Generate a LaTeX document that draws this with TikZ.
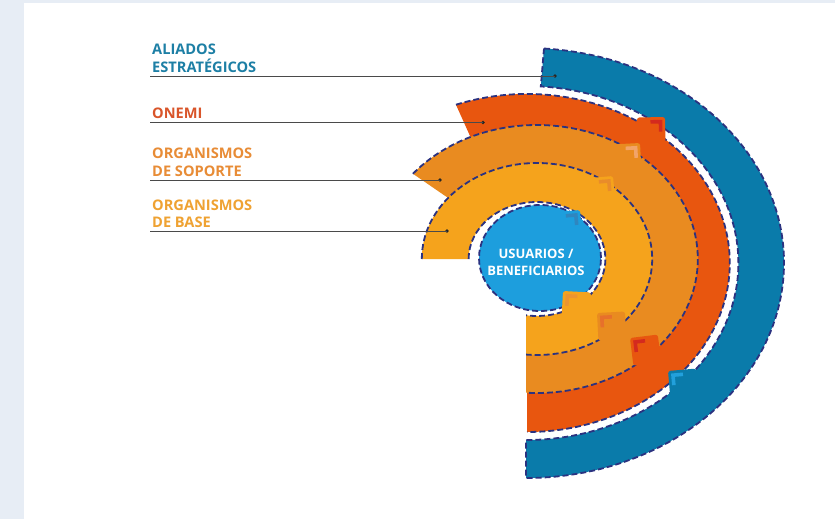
\documentclass[tikz,border=0pt]{standalone}
\usepackage{fontspec}
\setmainfont{Open Sans}
\usetikzlibrary{shapes.geometric}
\definecolor{cbg}{HTML}{E7EDF5}
\definecolor{cblue}{HTML}{0A7BAA}
\definecolor{conemi}{HTML}{E8560F}
\definecolor{csop}{HTML}{E98B20}
\definecolor{cbase}{HTML}{F5A31C}
\definecolor{ccirc}{HTML}{1D9EDD}
\definecolor{cnavy}{HTML}{2B3280}
\definecolor{tali}{HTML}{1D7FA5}
\definecolor{tonemi}{HTML}{D9552A}
\definecolor{tsop}{HTML}{E88C36}
\definecolor{tbase}{HTML}{EFA232}
\definecolor{cgray}{HTML}{4A4A4A}
\definecolor{chred}{HTML}{D42A1E}
\definecolor{chblue}{HTML}{22A0DC}
\definecolor{chcirc}{HTML}{2F86BF}
\definecolor{chbaseO}{HTML}{E98C2A}
\definecolor{chsopO}{HTML}{F2A46A}
\definecolor{chbaseI}{HTML}{EC9430}
\definecolor{chsopI}{HTML}{E7702B}
\newcommand\mybump[5]{%
  \begin{scope}[shift={(#1,-#2)},rotate=#3]
    \fill[#4,rounded corners=2.5pt] (0,0) -- (135:28pt) -- ++(-135:28pt) -- (-135:28pt) -- cycle;
    \draw[#5,line width=3.6pt,line join=miter] ([shift={(135:10pt)}]-6.5,0) -- (-6.5,0) -- ([shift={(-135:10pt)}]-6.5,0);
  \end{scope}}
\begin{document}
\begin{tikzpicture}[x=1pt,y=1pt,
  dashline/.style={draw=cnavy,line width=1.8pt,dash pattern=on 6pt off 3pt},
  lab/.style={font=\bfseries\fontsize{14.6}{16}\selectfont,anchor=base west,inner sep=0pt},
  ctr/.style={font=\bfseries\fontsize{13}{15}\selectfont,text=white,anchor=base,inner sep=0pt},
  leader/.style={draw=cgray,line width=0.8pt},
  dotmark/.style={circle,fill=black!85,inner sep=0pt,minimum size=3.6pt}]
\useasboundingbox (0,0) rectangle (835,-519);
\fill[cbg] (0,0) rectangle (835,-519);
\fill[white] (24,-3) rectangle (835,-519);

% ALIADOS ESTRATEGICOS (blue band)
\begin{scope}[shift={(526,-263)},xscale=1.2]
  \path[fill=cblue,dashline] (86:215pt) arc[start angle=86,end angle=-90,radius=215pt]
    -- (-90:177pt) arc[start angle=-90,end angle=86,radius=177pt] -- cycle;
\end{scope}

% ONEMI
\begin{scope}[shift={(527,-263)},xscale=1.2]
  \fill[conemi] (110.5:169pt) arc[start angle=110.5,end angle=-90,radius=169pt]
    -- (-90:120pt) arc[start angle=-90,end angle=110.5,radius=120pt] -- cycle;
  \draw[dashline] (110.5:169pt) arc[start angle=110.5,end angle=-90,radius=169pt];
\end{scope}
\mybump{665}{117}{46}{conemi}{chred}

% ORGANISMOS DE SOPORTE
\begin{scope}
  \clip (0,0) rectangle (835,-259) (526,-259) rectangle (835,-519);
  \begin{scope}[shift={(537,-259)},xscale=1.2]
    \fill[csop] (140.5:134pt) arc[start angle=140.5,end angle=-100,radius=134pt]
      -- (-100:85pt) arc[start angle=-100,end angle=140.5,radius=85pt] -- cycle;
    \draw[dashline] (140.5:134pt) arc[start angle=140.5,end angle=-100,radius=134pt];
  \end{scope}
\end{scope}
\mybump{640}{143}{48}{csop}{chsopO}

% ORGANISMOS DE BASE
\begin{scope}
  \clip (0,0) rectangle (835,-259) (526,-259) rectangle (835,-519);
  \begin{scope}[shift={(537,-259)},xscale=1.2]
    \fill[cbase] (180:96pt) arc[start angle=180,end angle=-100,radius=96pt]
      -- (-100:57pt) arc[start angle=-100,end angle=180,radius=57pt] -- cycle;
    \draw[dashline] (180:96pt) arc[start angle=180,end angle=-100,radius=96pt];
    \draw[dashline] (180:57pt) arc[start angle=180,end angle=-100,radius=57pt];
  \end{scope}
\end{scope}
\mybump{613}{176}{50}{cbase}{chbaseO}

% USUARIOS / BENEFICIARIOS
\node[ellipse,fill=ccirc,dashline,minimum width=122pt,minimum height=106pt,inner sep=0pt] (users) at (540,-258) {};
\mybump{580}{210}{50}{ccirc}{chcirc}

% inward bumps
\mybump{668}{371}{140}{cblue}{chblue}
\mybump{630}{338}{142}{conemi}{chred}
\mybump{597}{313}{138}{csop}{chsopI}
\mybump{563}{291}{132}{cbase}{chbaseI}

\node[ctr] (u1) at (536,-258) {USUARIOS /};
\node[ctr] (u2) at (536,-275) {BENEFICIARIOS};

% labels and leaders
\node[lab,text=tali] (a1) at (152,-55) {ALIADOS};
\node[lab,text=tali] (a2) at (152,-72) {ESTRATÉGICOS};
\coordinate (as) at (150,-76);
\node[dotmark] (ad) at (555,-76) {};
\draw[leader] (as) -- (ad.center);

\node[lab,text=tonemi] (o1) at (152,-118) {ONEMI};
\coordinate (os) at (150,-122.5);
\node[dotmark] (od) at (483,-122.5) {};
\draw[leader] (os) -- (od.center);

\node[lab,text=tsop] (s1) at (152,-158) {ORGANISMOS};
\node[lab,text=tsop] (s2) at (152,-176) {DE SOPORTE};
\coordinate (ss) at (150,-180);
\node[dotmark] (sd) at (440,-180) {};
\draw[leader] (ss) -- (sd.center);

\node[lab,text=tbase] (b1) at (152,-210) {ORGANISMOS};
\node[lab,text=tbase] (b2) at (152,-227) {DE BASE};
\coordinate (bs) at (150,-231);
\node[dotmark] (bd) at (447,-231) {};
\draw[leader] (bs) -- (bd.center);
\end{tikzpicture}
\end{document}
